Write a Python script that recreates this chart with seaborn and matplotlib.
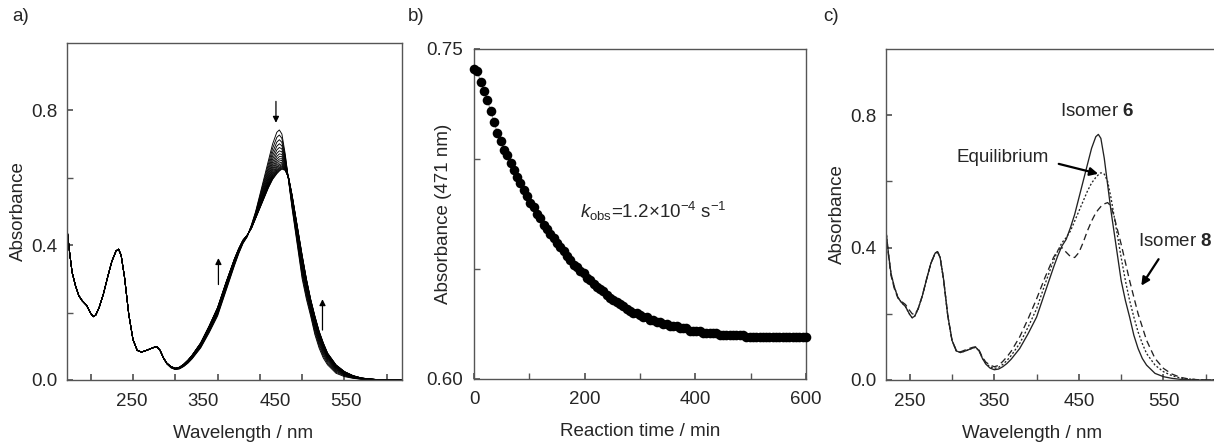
import numpy as np
import pandas as pd
import matplotlib
matplotlib.use('Agg')
import matplotlib.pyplot as plt
import seaborn as sns

sns.set_theme(style='white')
plt.rcParams['font.family'] = ['Liberation Sans', 'DejaVu Sans']
plt.rcParams['mathtext.fontset'] = 'custom'
plt.rcParams['mathtext.rm'] = 'Liberation Sans'
plt.rcParams['mathtext.it'] = 'Liberation Sans:italic'
plt.rcParams['mathtext.bf'] = 'Liberation Sans:bold'

# ---- data ----
wavelength = [222, 225, 228, 232, 236, 240, 245, 250, 253, 256,
              260, 265, 270, 275, 280, 283, 286, 290, 295, 300,
              305, 310, 315, 320, 325, 328, 332, 336, 340, 345,
              350, 355, 360, 365, 370, 380, 390, 400, 410, 420,
              425, 430, 435, 440, 445, 450, 455, 460, 465, 470,
              473, 476, 480, 484, 488, 492, 496, 500, 505, 510,
              515, 520, 525, 530, 540, 550, 560, 570, 580, 590,
              600, 620]

isomer6 = [0.450, 0.380, 0.320, 0.280, 0.250, 0.235, 0.222, 0.198, 0.188, 0.193,
           0.215, 0.255, 0.305, 0.352, 0.383, 0.388, 0.370, 0.305, 0.195, 0.120,
           0.088, 0.083, 0.087, 0.092, 0.097, 0.099, 0.088, 0.065, 0.048, 0.036,
           0.031, 0.033, 0.040, 0.050, 0.063, 0.095, 0.140, 0.190, 0.265, 0.340,
           0.375, 0.405, 0.425, 0.460, 0.500, 0.550, 0.600, 0.650, 0.700, 0.735,
           0.742, 0.730, 0.670, 0.590, 0.510, 0.440, 0.370, 0.300, 0.240, 0.190,
           0.135, 0.095, 0.065, 0.045, 0.020, 0.010, 0.005, 0.002, 0.001, 0.000,
           0.000, 0.000]

equilibrium = [0.450, 0.380, 0.320, 0.280, 0.250, 0.235, 0.222, 0.198, 0.188, 0.193,
               0.215, 0.255, 0.305, 0.352, 0.383, 0.388, 0.370, 0.305, 0.195, 0.120,
               0.088, 0.083, 0.087, 0.092, 0.097, 0.099, 0.088, 0.066, 0.050, 0.040,
               0.035, 0.038, 0.047, 0.059, 0.074, 0.110, 0.160, 0.215, 0.290, 0.360,
               0.390, 0.415, 0.430, 0.450, 0.480, 0.510, 0.540, 0.570, 0.595, 0.612,
               0.620, 0.626, 0.622, 0.600, 0.550, 0.490, 0.430, 0.370, 0.300, 0.240,
               0.190, 0.145, 0.110, 0.080, 0.045, 0.025, 0.013, 0.006, 0.003, 0.001,
               0.000, 0.000]

isomer8 = [0.450, 0.375, 0.315, 0.275, 0.248, 0.238, 0.228, 0.210, 0.200, 0.198,
           0.215, 0.255, 0.305, 0.352, 0.383, 0.386, 0.370, 0.305, 0.195, 0.120,
           0.090, 0.085, 0.090, 0.095, 0.099, 0.100, 0.090, 0.069, 0.054, 0.045,
           0.040, 0.044, 0.056, 0.070, 0.087, 0.130, 0.185, 0.245, 0.310, 0.370,
           0.392, 0.400, 0.386, 0.373, 0.370, 0.385, 0.415, 0.450, 0.480, 0.505,
           0.515, 0.524, 0.532, 0.536, 0.525, 0.490, 0.450, 0.410, 0.355, 0.300,
           0.250, 0.200, 0.160, 0.120, 0.065, 0.035, 0.018, 0.008, 0.003, 0.001,
           0.000, 0.000]

# peak absorbance of each scan in panel a (top to bottom)
scan_peaks = [0.742, 0.727, 0.713, 0.701, 0.690, 0.680, 0.671, 0.663, 0.656,
              0.650, 0.644, 0.639, 0.635, 0.631, 0.628, 0.625, 0.622, 0.620]

reaction_time = np.arange(0, 601, 6)
absorbance_471 = [0.741, 0.740, 0.735, 0.731, 0.727, 0.722, 0.717, 0.712, 0.708, 0.704,
                  0.702, 0.698, 0.695, 0.692, 0.689, 0.686, 0.683, 0.680, 0.678, 0.675,
                  0.673, 0.670, 0.668, 0.666, 0.664, 0.662, 0.660, 0.658, 0.656, 0.654,
                  0.652, 0.651, 0.649, 0.648, 0.646, 0.645, 0.643, 0.642, 0.641, 0.640,
                  0.638, 0.637, 0.636, 0.635, 0.634, 0.633, 0.632, 0.631, 0.630, 0.630,
                  0.629, 0.628, 0.628, 0.627, 0.627, 0.626, 0.626, 0.625, 0.625, 0.624,
                  0.624, 0.624, 0.623, 0.623, 0.623, 0.622, 0.622, 0.622, 0.622, 0.621,
                  0.621, 0.621, 0.621, 0.621, 0.620, 0.620, 0.620, 0.620, 0.620, 0.620,
                  0.620, 0.620, 0.619, 0.619, 0.619, 0.619, 0.619, 0.619, 0.619, 0.619,
                  0.619, 0.619, 0.619, 0.619, 0.619, 0.619, 0.619, 0.619, 0.619, 0.619,
                  0.619]

xlabels_a = ['250', '350', '450', '550']
xlabels_c = ['250', '350', '450', '550']

FS = 13.5
EDGE = '#555555'


def style_axes(ax):
    for s in ax.spines.values():
        s.set_color(EDGE)
        s.set_linewidth(1.0)
    ax.tick_params(which='both', direction='in', length=4, color=EDGE,
                   labelsize=FS, bottom=True, left=True, top=False, right=False)
    ax.tick_params(axis='x', which='both', pad=9)
    ax.tick_params(axis='y', which='both', pad=7)


fig = plt.figure(figsize=(12.14, 4.42), dpi=100)
W, H = 1214, 442

# ---- panel a ----
ax_a = fig.add_axes([67 / W, 1 - 380 / H, 335 / W, 337 / H])
wl = np.array(wavelength)
a6 = np.array(isomer6)
aeq = np.array(equilibrium)
ip = int(np.argmax(a6))
frames = []
for i, h in enumerate(scan_peaks):
    f = (a6[ip] - h) / (a6[ip] - aeq[ip])
    frames.append(pd.DataFrame({'wl': wl, 'A': a6 + f * (aeq - a6), 'scan': i}))
df_a = pd.concat(frames, ignore_index=True)
sns.lineplot(data=df_a, x='wl', y='A', units='scan', estimator=None,
             color='black', lw=0.65, ax=ax_a)
ax_a.set_xlim(222, 618)
ax_a.set_ylim(0, 1.0)
ax_a.set_xticks(np.arange(250, 601, 50))
ax_a.set_xticklabels([])
ax_a.set_xticks([298, 383, 468, 552], labels=xlabels_a, minor=True)
ax_a.set_yticks([0.0, 0.4, 0.8], labels=['0.0', '0.4', '0.8'])
ax_a.set_yticks([0.2, 0.6], minor=True)
style_axes(ax_a)
ax_a.tick_params(axis='x', which='minor', length=0)
arrow_thin = dict(arrowstyle='-|>', lw=0.9, color='black', mutation_scale=9)
ax_a.annotate('', xy=(469, 0.755), xytext=(469, 0.835), arrowprops=arrow_thin)
ax_a.annotate('', xy=(401, 0.37), xytext=(401, 0.275), arrowprops=arrow_thin)
ax_a.annotate('', xy=(524, 0.248), xytext=(524, 0.14), arrowprops=arrow_thin)
ax_a.set_xlabel('Wavelength / nm', fontsize=FS)
ax_a.set_ylabel('Absorbance', fontsize=FS)

# ---- panel b ----
ax_b = fig.add_axes([474 / W, 1 - 379 / H, 332 / W, 330 / H])
sns.lineplot(x=reaction_time, y=absorbance_471, color='#999999', lw=0.8, ax=ax_b)
sns.scatterplot(x=reaction_time, y=absorbance_471, color='black', s=48,
                linewidth=0, clip_on=False, zorder=3, ax=ax_b)
ax_b.set_xlim(0, 600)
ax_b.set_ylim(0.60, 0.75)
ax_b.set_xticks([0, 200, 400, 600])
ax_b.set_xticks([100, 300, 500], minor=True)
ax_b.set_yticks([0.60, 0.75], labels=['0.60', '0.75'])
ax_b.set_yticks([0.65, 0.70], minor=True)
style_axes(ax_b)
ax_b.tick_params(axis='y', which='both', pad=8)
ax_b.text(192, 0.676, r'$k_{\mathrm{obs}}$=1.2×10$^{-4}$ s$^{-1}$',
          fontsize=FS, ha='left', va='center')
ax_b.set_xlabel('Reaction time / min', fontsize=FS)
ax_b.set_ylabel('Absorbance (471 nm)', fontsize=FS)

# ---- panel c ----
ax_c = fig.add_axes([886 / W, 1 - 380 / H, 335 / W, 331 / H])
df_c = pd.concat([
    pd.DataFrame({'wl': wl, 'A': isomer6, 'spectrum': 'Isomer 6'}),
    pd.DataFrame({'wl': wl, 'A': equilibrium, 'spectrum': 'Equilibrium'}),
    pd.DataFrame({'wl': wl, 'A': isomer8, 'spectrum': 'Isomer 8'}),
], ignore_index=True)
sns.lineplot(data=df_c, x='wl', y='A', style='spectrum',
             dashes={'Isomer 6': '', 'Equilibrium': (1.5, 1.5), 'Isomer 8': (5, 3)},
             color='#222222', lw=0.95, legend=False, ax=ax_c)
ax_c.set_xlim(222, 618)
ax_c.set_ylim(0, 1.0)
ax_c.set_xticks([250, 350, 450, 550], labels=xlabels_c)
ax_c.set_xticks([300, 400, 500, 600], minor=True)
ax_c.set_yticks([0.0, 0.4, 0.8], labels=['0.0', '0.4', '0.8'])
ax_c.set_yticks([0.2, 0.6], minor=True)
style_axes(ax_c)
ax_c.text(472, 0.81, r'Isomer $\mathbf{6}$', fontsize=FS, ha='center', va='center')
ax_c.text(360, 0.673, 'Equilibrium', fontsize=FS, ha='center', va='center')
ax_c.text(520, 0.418, r'Isomer $\mathbf{8}$', fontsize=FS, ha='left', va='center')
arrow_bold = dict(arrowstyle='-|>', lw=1.6, color='black', mutation_scale=12)
ax_c.annotate('', xy=(476, 0.621), xytext=(423, 0.655), arrowprops=arrow_bold)
ax_c.annotate('', xy=(522, 0.278), xytext=(546, 0.372), arrowprops=arrow_bold)
ax_c.set_xlabel('Wavelength / nm', fontsize=FS)
ax_c.set_ylabel('Absorbance', fontsize=FS)

# axis label placement
for ax, h, xc in [(ax_a, 337, 0.525), (ax_b, 330, 0.5), (ax_c, 331, 0.436)]:
    ax.xaxis.label.set_va('center')
    ax.xaxis.set_label_coords(xc, -53 / h)
    ax.yaxis.label.set_va('center')
ax_a.yaxis.set_label_coords((18 - 67) / 335, 0.5)
ax_b.yaxis.set_label_coords((443 - 474) / 332, 0.5)
ax_c.yaxis.set_label_coords((837 - 886) / 335, 0.5)

for x, lab in [(12, 'a)'), (408, 'b)'), (823, 'c)')]:
    fig.text(x / W, 1 - 8 / H, lab, fontsize=FS, ha='left', va='top')

fig.savefig('out.png', dpi=100)
